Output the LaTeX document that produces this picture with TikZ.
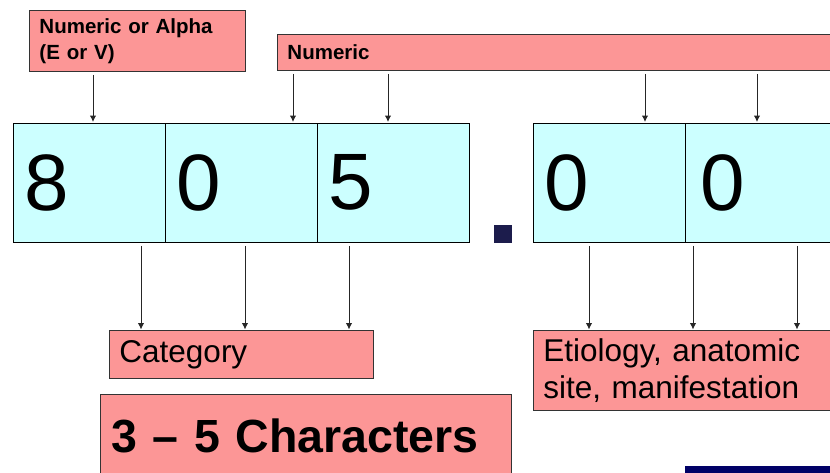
\documentclass[tikz,border=0pt]{standalone}
\usepackage{fontspec}
\setmainfont{Liberation Sans}
\usetikzlibrary{arrows.meta}
\definecolor{pinkfill}{RGB}{252,150,150}
\definecolor{cellfill}{RGB}{204,255,255}
\definecolor{dotnavy}{RGB}{28,28,76}
\definecolor{barnavy}{RGB}{0,0,102}
\tikzset{
  pinkbox/.style={draw=black!80, line width=0.9pt, fill=pinkfill, anchor=north west, inner xsep=10pt, inner ysep=0pt, align=left},
  cellbox/.style={draw=black, line width=0.9pt, fill=cellfill, anchor=north west, minimum width=152.5pt, minimum height=119.5pt, inner xsep=11pt, inner ysep=0pt, text width=130pt, align=left, font=\fontsize{80}{80}\selectfont},
  arr/.style={draw=black!85, line width=1pt, -{Latex[length=6.5pt,width=6.5pt]}, shorten <=3pt, shorten >=0.5pt}
}
\begin{document}
\begin{tikzpicture}[x=1pt,y=-1pt]
\useasboundingbox (0,0) rectangle (830,472);
\clip (0,0) rectangle (830,472);
% top boxes
\node[pinkbox, minimum width=216pt, minimum height=61pt, text width=196pt, font=\bfseries\fontsize{20.5}{26}\selectfont] (alpha) at (29,10) {Numeric or Alpha\\(E or V)};
\node[pinkbox, minimum width=580pt, minimum height=36pt, text width=560pt, font=\bfseries\fontsize{20.5}{23}\selectfont] (num) at (277,34) {Numeric};
% cells
\node[cellbox] (c1) at (12.5,122.5) {8};
\node[cellbox] (c2) at (165,122.5) {0};
\node[cellbox, minimum width=152pt] (c3) at (317,122.5) {5};
\node[cellbox] (c4) at (533,122.5) {0};
\node[cellbox, minimum width=160pt] (c5) at (685,122.5) {0};
% decimal point
\node[fill=dotnavy, minimum width=18pt, minimum height=18pt, inner sep=0pt, anchor=north west] (dot) at (494,225) {};
% bottom boxes
\node[pinkbox, minimum width=264pt, minimum height=48pt, text width=244pt, font=\fontsize{31.5}{37}\selectfont] (cat) at (109,330) {Category};
\node[pinkbox, minimum width=320pt, minimum height=80pt, text width=300pt, font=\fontsize{31.5}{37}\selectfont] (etio) at (533,330) {Etiology, anatomic\\site, manifestation};
\node[pinkbox, minimum width=409pt, minimum height=82pt, text width=389pt, inner xsep=11pt, font=\bfseries\fontsize{46.5}{52}\selectfont] (chars) at (100,394) {3 – 5 Characters};
\node[fill=barnavy, minimum width=160pt, minimum height=20pt, inner sep=0pt, anchor=north west] (bar) at (685,466) {};
% top arrows
\draw[arr] (alpha.south -| 93,0) -- (c1.north -| 93,0);
\draw[arr] (num.south -| 293,0) -- (c2.north -| 293,0);
\draw[arr] (num.south -| 388,0) -- (c3.north -| 388,0);
\draw[arr] (num.south -| 645,0) -- (c4.north -| 645,0);
\draw[arr] (num.south -| 757,0) -- (c5.north -| 757,0);
% bottom arrows
\draw[arr] (c1.south -| 141,0) -- (cat.north -| 141,0);
\draw[arr] (c2.south -| 245,0) -- (cat.north -| 245,0);
\draw[arr] (c3.south -| 349,0) -- (cat.north -| 349,0);
\draw[arr] (c4.south -| 589,0) -- (etio.north -| 589,0);
\draw[arr] (c5.south -| 693,0) -- (etio.north -| 693,0);
\draw[arr] (c5.south -| 797,0) -- (etio.north -| 797,0);
\end{tikzpicture}
\end{document}
